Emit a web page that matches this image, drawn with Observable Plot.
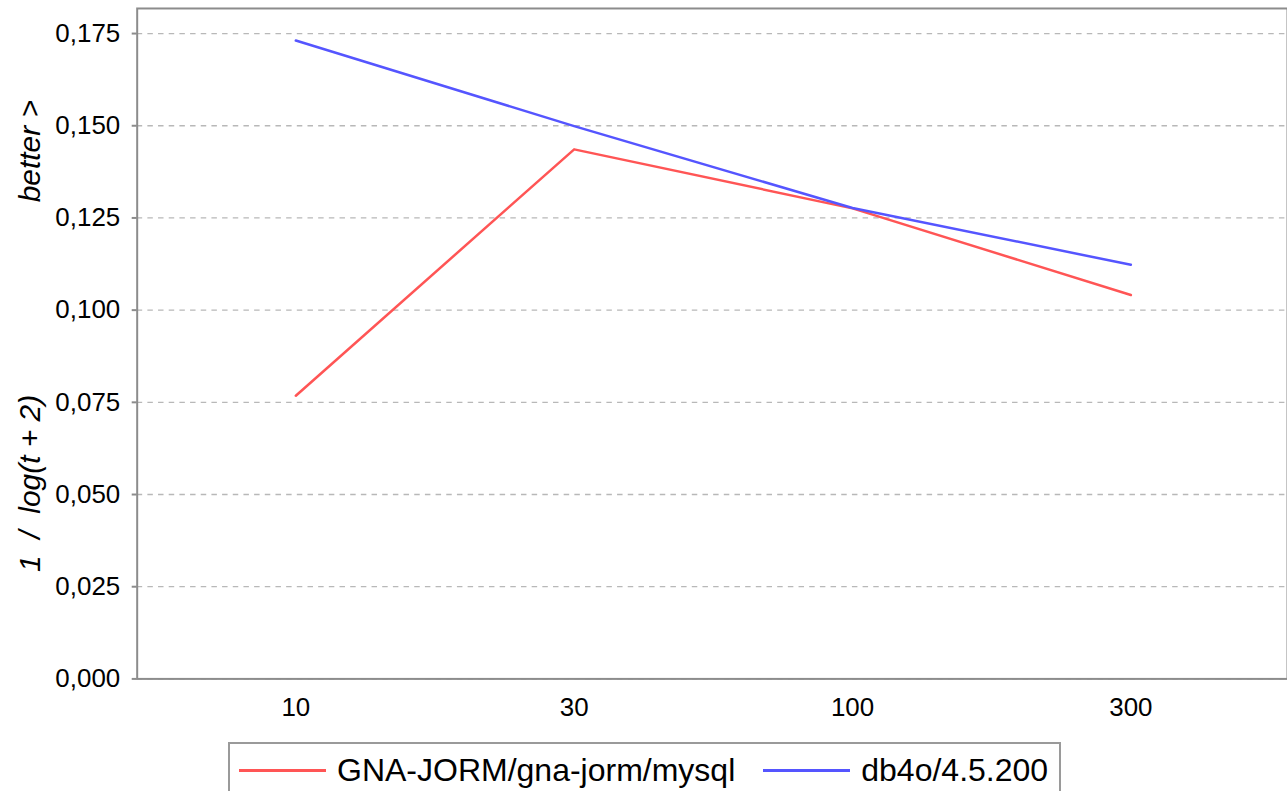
<!DOCTYPE html>
<html>
<head>
<meta charset="utf-8">
<script src="https://cdn.jsdelivr.net/npm/d3@7"></script>
<script src="https://cdn.jsdelivr.net/npm/@observablehq/plot@0.6"></script>
<style>
  html, body { margin: 0; padding: 0; background: #fff; overflow: hidden; }
  body { width: 1287px; height: 791px; position: relative; font-family: "Liberation Sans", Arial, sans-serif; }
  #chart { position: absolute; left: 0; top: 0; }
  #legend {
    position: absolute; left: 228px; top: 742px; width: 833px; height: 60px;
    border: 2px solid #9a9a9a; box-sizing: border-box; background: #fff;
    display: flex; align-items: flex-start; padding-left: 9px; padding-top: 8px;
    font-size: 32px; color: #000; white-space: nowrap;
  }
  .item { display: flex; align-items: center; margin-right: 28px; line-height: 36px; flex-shrink: 0; }
  .sw { width: 87px; height: 3px; margin-right: 11px; flex-shrink: 0; }
</style>
</head>
<body>
<div id="chart"></div>
<div id="legend"></div>
<script>
const categories = ["10", "30", "100", "300"];
const seriesNames = ["GNA-JORM/gna-jorm/mysql", "db4o/4.5.200"];
const gnaValues = [0.0768, 0.1436, 0.1276, 0.1041];
const db4oValues = [0.1731, 0.1499, 0.1277, 0.1123];
const yTicks = [0, 0.025, 0.05, 0.075, 0.1, 0.125, 0.15, 0.175];
const colors = ["#ff5555", "#5555ff"];

const data = [];
categories.forEach((c, i) => data.push({x: c, y: gnaValues[i], s: seriesNames[0]}));
categories.forEach((c, i) => data.push({x: c, y: db4oValues[i], s: seriesNames[1]}));

const fmt = v => d3.format(".3f")(v).replace(".", ",");

const chart = Plot.plot({
  width: 1290,
  height: 735,
  marginLeft: 137,
  marginRight: 0,
  marginTop: 8,
  marginBottom: 55,
  style: {fontFamily: "'Liberation Sans', Arial, sans-serif", fontSize: "26px", color: "#000", background: "#fff"},
  x: {type: "point", domain: categories, range: [296, 1133], padding: 0},
  y: {domain: [0, 0.1818]},
  color: {domain: seriesNames, range: colors},
  marks: [
    Plot.gridY(yTicks, {stroke: "#b8b8b8", strokeOpacity: 1, strokeWidth: 1.3, strokeDasharray: "5.5,5.2"}),
    Plot.frame({stroke: "#8c8c8c", strokeWidth: 2}),
    Plot.axisY(yTicks, {tickSize: 5, tickPadding: 12, tickFormat: fmt, stroke: "#8c8c8c", strokeWidth: 2, fill: "#000", label: null, fontSize: 26}),
    Plot.axisX({tickSize: 0, tickPadding: 19, label: null, fill: "#000", fontSize: 26}),
    Plot.line(data, {x: "x", y: "y", z: "s", stroke: "s", strokeWidth: 2.5}),
    Plot.text(["better >"], {frameAnchor: "left", textAnchor: "middle", lineAnchor: "middle", rotate: -90, dx: -107, dy: -193, fontSize: 30, fontStyle: "italic", fill: "#000"}),
    Plot.text(["1  /  log(t + 2)"], {frameAnchor: "left", textAnchor: "middle", lineAnchor: "middle", rotate: -90, dx: -107, dy: 140, fontSize: 30, fontStyle: "italic", fill: "#000"})
  ]
});
chart.querySelectorAll("text").forEach(t => t.setAttribute("xml:space", "preserve"));
chart.querySelectorAll('g[aria-label="y-axis tick label"], g[aria-label="x-axis tick label"]').forEach(g => {
  g.setAttribute("font-size", "26");
  g.style.fontSize = "26px";
});
document.getElementById("chart").appendChild(chart);

const legend = document.getElementById("legend");
seriesNames.forEach((name, i) => {
  const item = document.createElement("div");
  item.className = "item";
  const sw = document.createElement("div");
  sw.className = "sw";
  sw.style.background = colors[i];
  const lab = document.createElement("span");
  lab.textContent = name;
  item.appendChild(sw);
  item.appendChild(lab);
  legend.appendChild(item);
});
</script>
</body>
</html>
